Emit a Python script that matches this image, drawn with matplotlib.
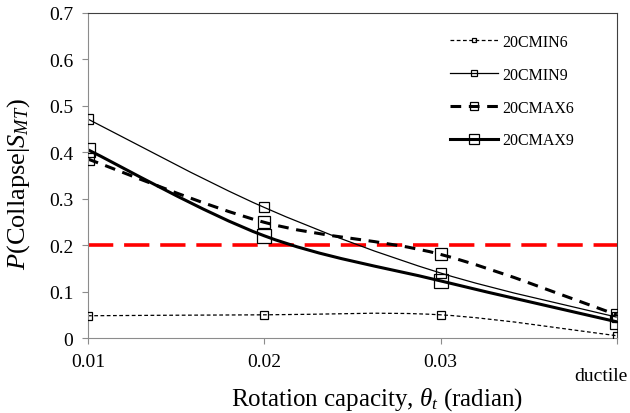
import matplotlib
matplotlib.use("Agg")
import matplotlib.pyplot as plt
from matplotlib.path import Path
from matplotlib.patches import PathPatch
from matplotlib.lines import Line2D
import numpy as np

plt.rcParams['font.family'] = ['Liberation Serif', 'DejaVu Serif']
plt.rcParams['mathtext.fontset'] = 'custom'
plt.rcParams['mathtext.rm'] = 'Liberation Serif'
plt.rcParams['mathtext.it'] = 'Liberation Serif:italic'

categories = ['0.01', '0.02', '0.03', 'ductile']
min6 = [0.048, 0.050, 0.050, 0.005]
min9 = [0.471, 0.281, 0.140, 0.045]
max6 = [0.385, 0.249, 0.180, 0.050]
max9 = [0.405, 0.220, 0.123, 0.035]
threshold = 0.2

# name, values, line width, line style, marker size on plot / in legend
series = [
    ('20CMIN6', min6, 0.9, (0, (3, 2)), 5.5, 3.5),
    ('20CMIN9', min9, 0.9, '-', 7, 5),
    ('20CMAX6', max6, 2.2, (0, (3.5, 2.5)), 8.5, 5.5),
    ('20CMAX9', max9, 2.2, '-', 10, 7.5),
]


def smooth_path(xs, ys):
    # bezier segments like a spreadsheet "smoothed line"
    pts = np.column_stack([xs, ys])
    ext = np.vstack([pts[0], pts, pts[-1]])
    verts = [pts[0]]
    codes = [Path.MOVETO]
    for i in range(len(pts) - 1):
        p0, p1, p2, p3 = ext[i], ext[i + 1], ext[i + 2], ext[i + 3]
        verts += [p1 + (p2 - p0) / 6, p2 - (p3 - p1) / 6, p2]
        codes += [Path.CURVE4] * 3
    return Path(verts, codes)


fig = plt.figure(figsize=(6.3, 4.14), dpi=100)
ax = fig.add_axes([0.1397, 0.181, 0.8393, 0.786])

x = np.arange(len(categories))
ax.axhline(threshold, color='#ff0000', lw=2.6, ls=(0, (7, 3)), zorder=1)

handles = []
for name, vals, lw, ls, ms, lms in series:
    ax.add_patch(PathPatch(smooth_path(x, vals), fill=False, edgecolor='black',
                           lw=lw, ls=ls, zorder=2))
    ax.plot(x, vals, ls='none', marker='s', ms=ms, mfc='none',
            mec='black', mew=0.9, zorder=3)
    handles.append(Line2D([], [], color='black', lw=lw, ls=ls,
                          marker='s', ms=lms, mfc='none', mec='black',
                          mew=0.9, label=name))

ax.set_xlim(0, 3)
ax.set_ylim(0, 0.7)
ax.set_xticks(x)
ax.set_xticklabels(categories[:3] + [''])
ax.set_yticks(np.arange(0, 0.71, 0.1))
ax.set_yticklabels(['0'] + ['%.1f' % v for v in np.arange(0.1, 0.71, 0.1)])
ax.annotate(categories[3], xy=(3, 0), xycoords=('data', 'axes fraction'),
            xytext=(8, -21), textcoords='offset points', ha='right', va='top',
            fontsize=14)

for side in ('left', 'bottom'):
    ax.spines[side].set_color('#8c8c8c')
for side in ('top', 'right'):
    ax.spines[side].set_color('#404040')
ax.tick_params(axis='both', colors='#8c8c8c', labelcolor='black',
               labelsize=14, length=4.5, direction='out')
ax.tick_params(axis='x', pad=6)
ax.tick_params(axis='y', pad=6)

ax.set_xlabel(r'Rotation capacity, $\theta_t$ (radian)', fontsize=18, labelpad=11)
ax.set_ylabel(r'$P$(Collapse|$S_{MT}$)', fontsize=19, labelpad=12)
ax.xaxis.label.set_x(0.546)
ax.yaxis.label.set_y(0.476)

ax.legend(handles=handles, loc='upper left', frameon=False, fontsize=11.5,
          handlelength=3.0, handletextpad=0.25, labelspacing=1.05,
          borderpad=0, borderaxespad=0,
          bbox_to_anchor=(450 / 630, 1 - 35 / 414),
          bbox_transform=fig.transFigure)

fig.savefig('out.png', dpi=100)
